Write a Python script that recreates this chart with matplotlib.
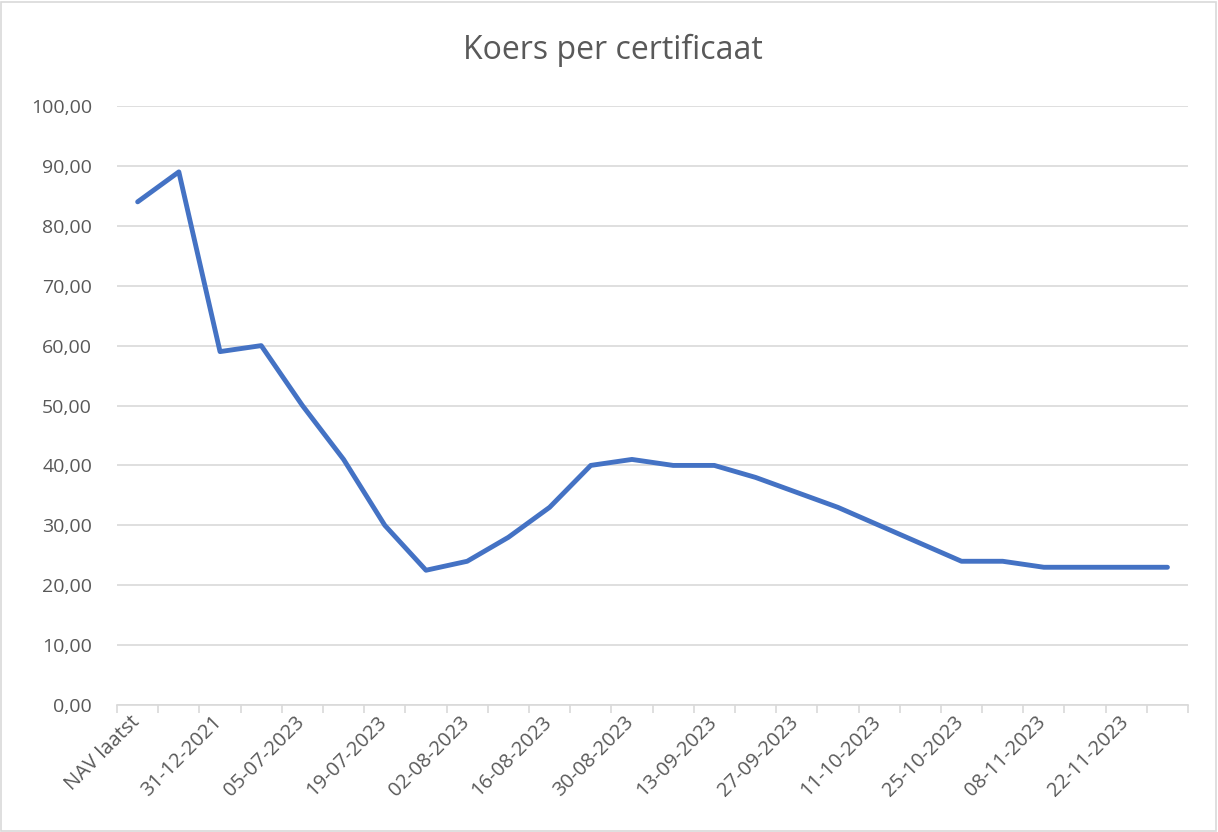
import matplotlib.pyplot as plt
from matplotlib.patches import Rectangle
from matplotlib.ticker import FuncFormatter

# Data
categories = ['NAV laatst', '31-12-2020', '31-12-2021', '28-06-2023', '05-07-2023',
              '12-07-2023', '19-07-2023', '26-07-2023', '02-08-2023', '09-08-2023',
              '16-08-2023', '23-08-2023', '30-08-2023', '06-09-2023', '13-09-2023',
              '20-09-2023', '27-09-2023', '04-10-2023', '11-10-2023', '18-10-2023',
              '25-10-2023', '01-11-2023', '08-11-2023', '15-11-2023', '22-11-2023',
              '29-11-2023']
koers = [84, 89, 59, 60, 50, 41, 30, 22.5, 24, 28, 33, 40, 41, 40, 40, 38, 35.5,
         33, 30, 27, 24, 24, 23, 23, 23, 23]

plt.rcParams['font.family'] = ['Open Sans', 'DejaVu Sans']
text_col = '#595959'
grid_col = '#d9d9d9'

fig = plt.figure(figsize=(12.18, 8.32), dpi=100)
ax = fig.add_axes([0.0961, 0.1526, 0.8793, 0.72])

x = list(range(len(categories)))
ax.plot(x, koers, color='#4472C4', linewidth=3.5, solid_joinstyle='round',
        solid_capstyle='round')

ax.set_xlim(-0.5, len(categories) - 0.5)
ax.set_ylim(0, 100)
ax.set_yticks(range(0, 101, 10))
ax.yaxis.set_major_formatter(FuncFormatter(lambda v, p: f'{v:.2f}'.replace('.', ',')))
ax.grid(axis='y', color=grid_col, linewidth=1.2)
ax.set_axisbelow(True)

# category labels on every second category, tick marks between categories
ax.set_xticks([i - 0.5 for i in range(len(categories) + 1)])
ax.set_xticklabels([])
ax.tick_params(axis='x', length=6, color=grid_col, width=1.2)
for i in range(0, len(categories), 2):
    ax.text(i - 0.02, -2.3, categories[i], rotation=45, rotation_mode='anchor',
            ha='right', va='center', fontsize=14.5, color=text_col)

ax.tick_params(axis='y', length=0, pad=18, labelsize=14, labelcolor=text_col)
for s in ['top', 'right', 'left']:
    ax.spines[s].set_visible(False)
ax.spines['bottom'].set_color(grid_col)
ax.spines['bottom'].set_linewidth(1.2)

fig.text(0.503, 0.94, 'Koers per certificaat', ha='center', va='center',
         fontsize=23, color=text_col)

fig.patches.append(Rectangle((0.001, 0.001), 0.997, 0.997, transform=fig.transFigure,
                             fill=False, edgecolor=grid_col, linewidth=1.2))

fig.savefig('out.png', dpi=100)
